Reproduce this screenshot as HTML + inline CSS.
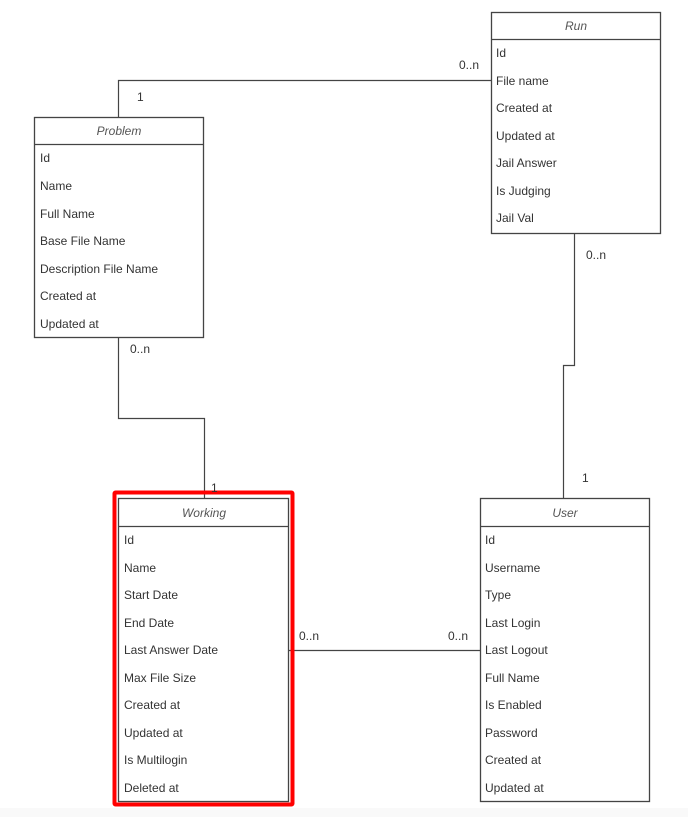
<!DOCTYPE html>
<html><head><meta charset="utf-8"><style>
html,body{margin:0;padding:0;background:#fff;}
svg{display:block;font-family:"Liberation Sans",Arial,sans-serif;font-size:12px;}
.t{fill:#333;}
.h{fill:#555;font-style:italic;}
</style></head><body>
<svg width="688" height="817" viewBox="0 0 688 817" xmlns="http://www.w3.org/2000/svg">
<rect x="0" y="808" width="688" height="9" fill="#f9f9f9"/>
<g fill="none" stroke="#444" stroke-width="1.2">
<polyline points="118.5,117 118.5,80.5 491,80.5"/>
<polyline points="118.5,337 118.5,418.5 204.5,418.5 204.5,498"/>
<polyline points="574.5,234 574.5,365.5 563.5,365.5 563.5,498"/>
<line x1="289" y1="650.5" x2="480" y2="650.5"/>
</g>
<g fill="none" stroke="#444" stroke-width="1.3">
<rect x="491.5" y="12.5" width="169" height="221"/>
<line x1="491.5" y1="39.5" x2="660.5" y2="39.5"/>
<rect x="34.5" y="117.5" width="169" height="220"/>
<line x1="34.5" y1="144.5" x2="203.5" y2="144.5"/>
<rect x="118.5" y="498.5" width="170" height="303"/>
<line x1="118.5" y1="526.5" x2="288.5" y2="526.5"/>
<rect x="480.5" y="498.5" width="169" height="303"/>
<line x1="480.5" y1="526.5" x2="649.5" y2="526.5"/>
</g>
<rect x="114.5" y="492.5" width="178" height="312" fill="none" stroke="#f00" stroke-width="4" rx="1"/>
<g class="h" text-anchor="middle">
<text x="576" y="30">Run</text>
<text x="119" y="135">Problem</text>
<text x="204" y="517">Working</text>
<text x="565" y="517">User</text>
</g>
<g class="t">
<text x="496" y="57">Id</text><text x="496" y="85">File name</text><text x="496" y="112">Created at</text><text x="496" y="140">Updated at</text><text x="496" y="167">Jail Answer</text><text x="496" y="195">Is Judging</text><text x="496" y="222">Jail Val</text>
<text x="40" y="162">Id</text><text x="40" y="190">Name</text><text x="40" y="218">Full Name</text><text x="40" y="245">Base File Name</text><text x="40" y="273">Description File Name</text><text x="40" y="300">Created at</text><text x="40" y="328">Updated at</text>
<text x="124" y="544">Id</text><text x="124" y="572">Name</text><text x="124" y="599">Start Date</text><text x="124" y="627">End Date</text><text x="124" y="654">Last Answer Date</text><text x="124" y="682">Max File Size</text><text x="124" y="709">Created at</text><text x="124" y="737">Updated at</text><text x="124" y="764">Is Multilogin</text><text x="124" y="792">Deleted at</text>
<text x="485" y="544">Id</text><text x="485" y="572">Username</text><text x="485" y="599">Type</text><text x="485" y="627">Last Login</text><text x="485" y="654">Last Logout</text><text x="485" y="682">Full Name</text><text x="485" y="709">Is Enabled</text><text x="485" y="737">Password</text><text x="485" y="764">Created at</text><text x="485" y="792">Updated at</text>
<text x="459" y="69">0..n</text>
<text x="137" y="101">1</text>
<text x="130" y="353">0..n</text>
<text x="211" y="492">1</text>
<text x="586" y="259">0..n</text>
<text x="582" y="482">1</text>
<text x="299" y="640">0..n</text>
<text x="448" y="640">0..n</text>
</g>
</svg>
</body></html>
